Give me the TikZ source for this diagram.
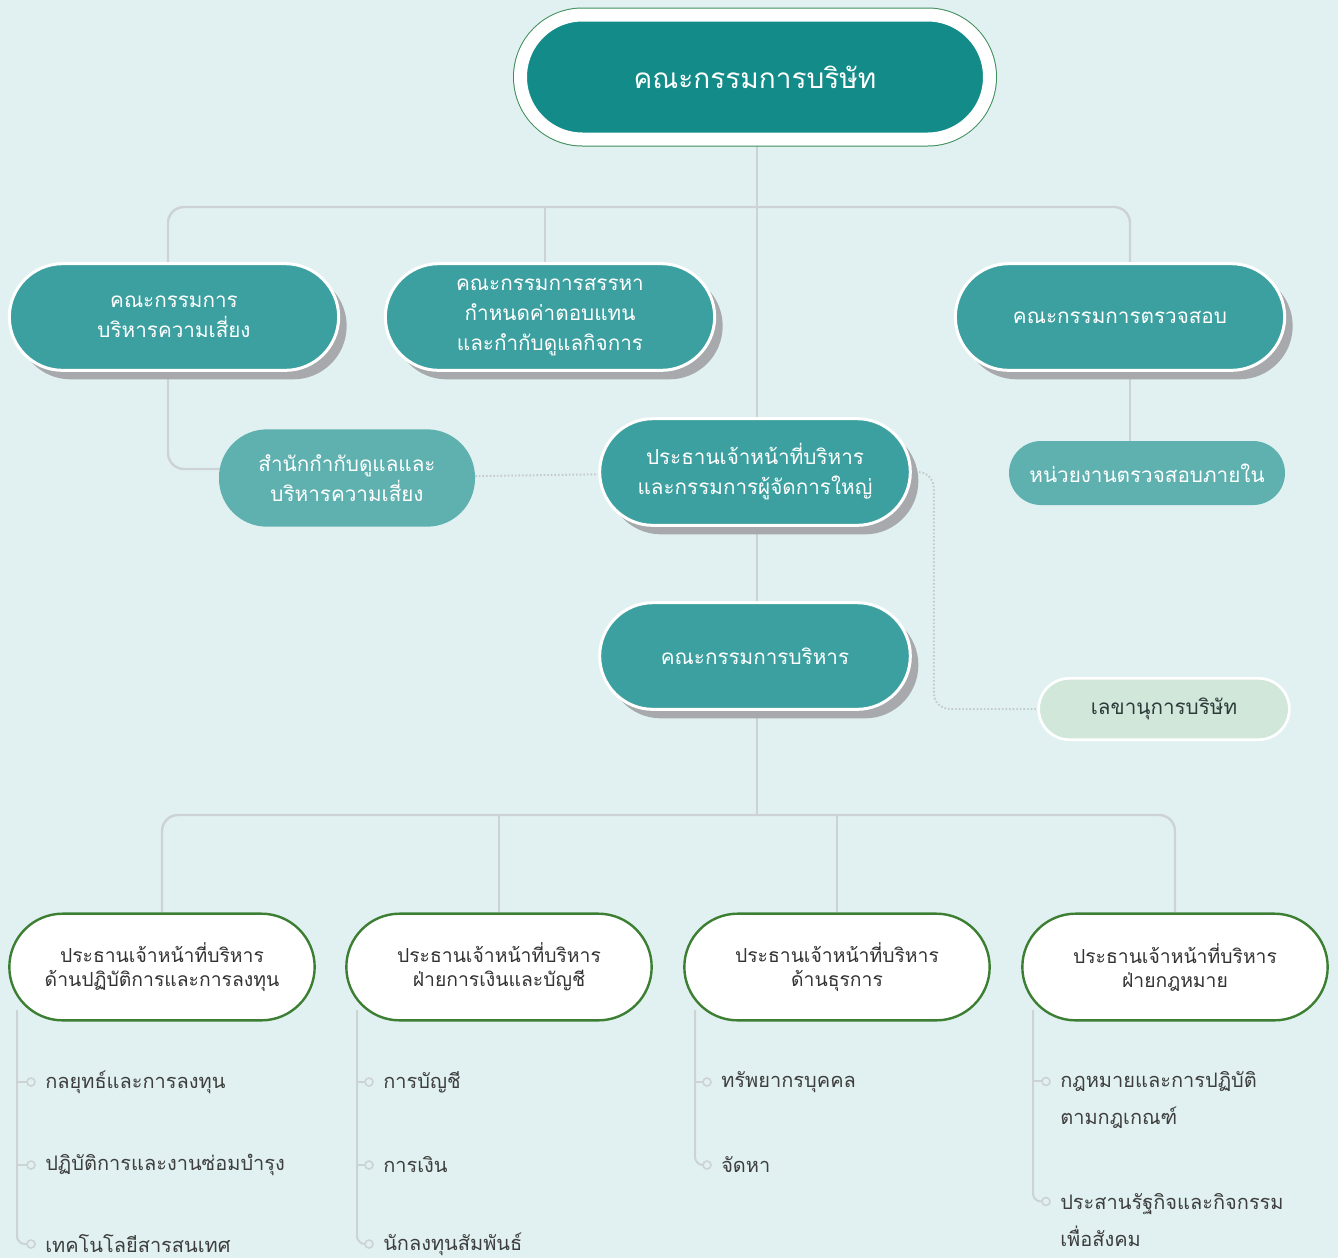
\documentclass[tikz,border=0pt]{standalone}
\usepackage{fontspec}
\setmainfont{Loma}[Script=Thai]
\usetikzlibrary{shadows}

\definecolor{bgcolor}{HTML}{E1F1F1}
\definecolor{boardteal}{HTML}{128B89}
\definecolor{ringgreen}{HTML}{3E8E5A}
\definecolor{committeeteal}{HTML}{3DA0A0}
\definecolor{officeteal}{HTML}{5FB1B0}
\definecolor{secfill}{HTML}{D0E7DA}
\definecolor{sectext}{HTML}{2E3A3A}
\definecolor{shadowgray}{HTML}{A8A9AC}
\definecolor{linegray}{HTML}{CDD2D4}
\definecolor{dotgray}{HTML}{C5CBCB}
\definecolor{chiefgreen}{HTML}{3C7F33}
\definecolor{chieftext}{HTML}{333333}
\definecolor{listtext}{HTML}{3E3E3E}

\pgfdeclarelayer{bg}
\pgfdeclarelayer{links}
\pgfsetlayers{bg,links,main}

\tikzstyle{board} = [rectangle, rounded corners=46.5pt, minimum width=351.75pt, minimum height=93pt, fill=boardteal, draw=white, line width=9.75pt, preaction={draw=ringgreen, line width=11.25pt}, text=white, font=\fontsize{21}{26}\selectfont]
\tikzstyle{committee} = [rectangle, rounded corners=40pt, minimum width=247pt, minimum height=80pt, fill=committeeteal, draw=white, line width=2.25pt, text=white, align=center, font=\fontsize{15.5}{22.5}\selectfont, drop shadow={shadow xshift=6pt, shadow yshift=-6.75pt, fill=shadowgray, opacity=1}]
\tikzstyle{office} = [rectangle, rounded corners=24pt, minimum width=207pt, minimum height=48pt, fill=officeteal, text=white, align=center, font=\fontsize{15.5}{22}\selectfont]
\tikzstyle{secretary} = [rectangle, rounded corners=23pt, minimum width=188pt, minimum height=46pt, fill=secfill, draw=white, line width=2pt, text=sectext, font=\fontsize{15.5}{20}\selectfont]
\tikzstyle{chief} = [rectangle, rounded corners=40pt, minimum width=229pt, minimum height=80pt, fill=white, draw=chiefgreen, line width=1.8pt, text=chieftext, align=center, font=\fontsize{14.5}{18}\selectfont]
\tikzstyle{listitem} = [anchor=west, inner sep=0pt, align=left, text=listtext, font=\fontsize{15}{27.75}\selectfont]
\tikzstyle{link} = [draw=linegray, line width=1.8pt, rounded corners=12pt]
\tikzstyle{dotlink} = [draw=dotgray, line width=1.5pt, dash pattern=on 1.2pt off 1.5pt, rounded corners=12pt]
\tikzstyle{treeline} = [draw=linegray, line width=1.5pt, rounded corners=6pt]
\tikzstyle{bullet} = [draw=linegray, line width=1.2pt, fill=bgcolor]

\begin{document}
\begin{tikzpicture}[x=0.75pt, y=-0.75pt]
\begin{pgfonlayer}{bg}
\fill[bgcolor] (0,0) rectangle (1338,1258);
\end{pgfonlayer}
\useasboundingbox (0,0) rectangle (1338,1258);

\node (board) [board] at (755,77) {คณะกรรมการบริษัท};
\node (risk) [committee] at (174,317) {คณะกรรมการ\\บริหารความเสี่ยง};
\node (nomination) [committee] at (550,317) {คณะกรรมการสรรหา\\กำหนดค่าตอบแทน\\และกำกับดูแลกิจการ};
\node (audit) [committee] at (1120,317) {คณะกรรมการตรวจสอบ};
\node (ceo) [committee, minimum width=233pt] at (755,472) {ประธานเจ้าหน้าที่บริหาร\\และกรรมการผู้จัดการใหญ่};
\node (exec) [committee, minimum width=233pt] at (755,656) {คณะกรรมการบริหาร};
\node (riskoffice) [office, rounded corners=36pt, minimum width=192pt, minimum height=73pt] at (347,478) {สำนักกำกับดูแลและ\\บริหารความเสี่ยง};
\node (internalaudit) [office] at (1147,473) {หน่วยงานตรวจสอบภายใน};
\node (secretary) [secretary] at (1164,709) {เลขานุการบริษัท};

\node (chiefops) [chief] at (162,967) {ประธานเจ้าหน้าที่บริหาร\\ด้านปฏิบัติการและการลงทุน};
\node (chieffin) [chief] at (499,967) {ประธานเจ้าหน้าที่บริหาร\\ฝ่ายการเงินและบัญชี};
\node (chiefbiz) [chief] at (837,967) {ประธานเจ้าหน้าที่บริหาร\\ด้านธุรการ};
\node (chieflaw) [chief] at (1175,967) {ประธานเจ้าหน้าที่บริหาร\\ฝ่ายกฎหมาย};

\node (ops1) [listitem] at (45,1082) {กลยุทธ์และการลงทุน};
\node (ops2) [listitem] at (45,1165) {ปฏิบัติการและงานซ่อมบำรุง};
\node (ops3) [listitem] at (45,1244) {เทคโนโลยีสารสนเทศ};
\node (fin1) [listitem] at (383,1082) {การบัญชี};
\node (fin2) [listitem] at (383,1165) {การเงิน};
\node (fin3) [listitem] at (383,1244) {นักลงทุนสัมพันธ์};
\node (biz1) [listitem] at (721,1082) {ทรัพยากรบุคคล};
\node (biz2) [listitem] at (721,1165) {จัดหา};
\node (law1) [listitem] at (1060,1100) {กฎหมายและการปฏิบัติ\\ตามกฎเกณฑ์};
\node (law2) [listitem] at (1060,1220) {ประสานรัฐกิจและกิจกรรม\\เพื่อสังคม};

\coordinate (topbus) at (757,207);
\coordinate (lowbus) at (757,815);
\coordinate (opsroot) at (17,1010);
\coordinate (finroot) at (357,1010);
\coordinate (bizroot) at (695,1010);
\coordinate (lawroot) at (1033,1010);

\begin{pgfonlayer}{links}
\draw [link] ([xshift=1.5pt]board.center) -- ([xshift=1.5pt]ceo.center);
\draw [link] ([xshift=1.5pt]ceo.center) -- ([xshift=1.5pt]exec.center);
\draw [link] ([xshift=-4.5pt]risk.center) |- (topbus) -| ([xshift=7.5pt]audit.center);
\draw [link] ([xshift=-3.75pt]nomination.center) -- ([xshift=-3.75pt]nomination.center |- topbus);
\draw [link] ([xshift=-4.5pt]risk.center) |- ([yshift=6.75pt]riskoffice.center);
\draw [link] ([xshift=7.5pt]audit.center) -- ([xshift=7.5pt]audit.center |- internalaudit.center);
\draw [dotlink] (riskoffice) -- (ceo);
\draw [dotlink] (ceo.east) -- ++(22,0) |- (secretary);
\draw [link] ([xshift=1.5pt]exec.center) -- (lowbus);
\draw [link] (chiefops) |- (lowbus) -| (chieflaw);
\draw [link] (chieffin) -- (chieffin |- lowbus);
\draw [link] (chiefbiz) -- (chiefbiz |- lowbus);
\end{pgfonlayer}

\draw [treeline] (opsroot) |- ([xshift=-13.5pt]ops3.west);
\draw [treeline] (opsroot |- ops1.west) -- ([xshift=-13.5pt]ops1.west);
\draw [treeline] (opsroot |- ops2.west) -- ([xshift=-13.5pt]ops2.west);
\draw [treeline] (finroot) |- ([xshift=-13.5pt]fin3.west);
\draw [treeline] (finroot |- fin1.west) -- ([xshift=-13.5pt]fin1.west);
\draw [treeline] (finroot |- fin2.west) -- ([xshift=-13.5pt]fin2.west);
\draw [treeline] (bizroot) |- ([xshift=-13.5pt]biz2.west);
\draw [treeline] (bizroot |- biz1.west) -- ([xshift=-13.5pt]biz1.west);
\draw [treeline] (lawroot) |- ([xshift=-13.5pt, yshift=13.9pt]law2.west);
\draw [treeline] ([yshift=13.9pt]lawroot |- law1.west) -- ([xshift=-13.5pt, yshift=13.9pt]law1.west);

\foreach \item in {ops1,ops2,ops3,fin1,fin2,fin3,biz1,biz2}
  \draw [bullet] ([xshift=-10.5pt]\item.west) circle (3pt);
\foreach \item in {law1,law2}
  \draw [bullet] ([xshift=-10.5pt, yshift=13.9pt]\item.west) circle (3pt);
\end{tikzpicture}
\end{document}
